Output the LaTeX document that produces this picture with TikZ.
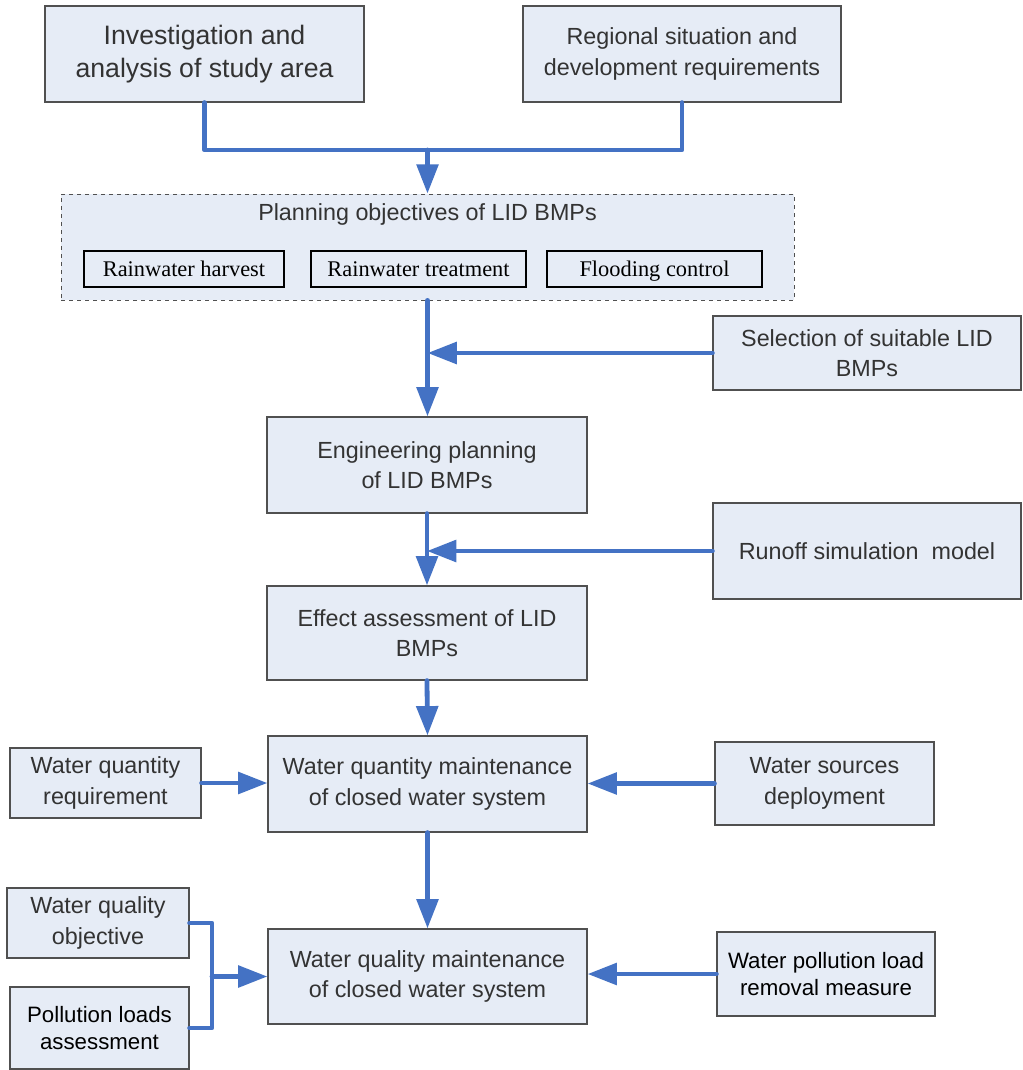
\documentclass[tikz,border=0pt]{standalone}
\usepackage{fontspec}
\setmainfont{Liberation Sans}
\newfontfamily\seriffam{Liberation Serif}
\usetikzlibrary{arrows.meta,calc}
\definecolor{boxfill}{RGB}{230,236,246}
\definecolor{boxline}{RGB}{80,80,80}
\definecolor{txt}{RGB}{51,51,51}
\definecolor{arrowblue}{RGB}{68,114,196}
\begin{document}
\begin{tikzpicture}[x=0.75pt,y=-0.75pt,
  box/.style={draw=boxline,line width=0.9pt,fill=boxfill,text=txt,align=center,inner sep=0pt,
    font=\fontsize{17.5}{23}\selectfont},
  blackbox/.style={box,text=black,font=\fontsize{16.7}{20}\selectfont},
  subbox/.style={draw=black,line width=1.1pt,fill=boxfill,text=black,inner sep=0pt,
    text height=11.5pt,text depth=0pt,
    minimum height=27pt,font=\seriffam\fontsize{16.8}{20}\selectfont},
  flow/.style={draw=arrowblue,line width=3.6pt,line cap=round,line join=round},
  flowarrow/.style={flow,-{Triangle[length=22pt,width=16pt]}}
]
\useasboundingbox (0,0) rectangle (1022,1070);
\fill[white] (0,0) rectangle (1022,1070);

% top boxes
\node[box,minimum width=239.25pt,minimum height=72pt,font=\fontsize{20}{24.75}\selectfont] (inv) at (204.5,54) {Investigation and\\analysis of study area};
\node[box,minimum width=238.5pt,minimum height=72pt] (reg) at (682,54) {Regional situation and\\development requirements};

% planning objectives container
\node[draw=boxline,dashed,line width=0.6pt,fill=boxfill,minimum width=549.75pt,minimum height=79.5pt,inner sep=0pt] (plan) at (427.5,247) {};
\node[text=txt,font=\fontsize{17.5}{23}\selectfont,inner sep=0pt] (plantitle) at (427.5,214) {Planning objectives of LID BMPs};
\node[subbox,minimum width=150pt] (rh) at (184,269) {Rainwater harvest};
\node[subbox,minimum width=161.25pt] (rt) at (418.5,269) {Rainwater treatment};
\node[subbox,minimum width=161.25pt] (fc) at (654.5,269) {Flooding control};

% middle column
\node[box,minimum width=231pt,minimum height=55.5pt] (sel) at (867,353) {Selection of suitable LID\\BMPs};
\node[box,minimum width=240pt,minimum height=72pt] (eng) at (427,465) {Engineering planning\\of LID BMPs};
\node[box,minimum width=231pt,minimum height=72pt] (run) at (867,551) {Runoff simulation~ model};
\node[box,minimum width=240pt,minimum height=70.5pt] (eff) at (427,633) {Effect assessment of LID\\BMPs};
\node[box,minimum width=239.25pt,minimum height=72pt] (wqm) at (427.5,784) {Water quantity maintenance\\of closed water system};
\node[box,minimum width=143.25pt,minimum height=52.5pt] (wqr) at (105.5,783) {Water quantity\\requirement};
\node[box,minimum width=164.25pt,minimum height=62.25pt] (wsd) at (824.5,783.5) {Water sources\\deployment};
\node[box,minimum width=239.25pt,minimum height=71.25pt] (wql) at (427.5,976.5) {Water quality maintenance\\of closed water system};
\node[box,minimum width=136.5pt,minimum height=52.5pt] (wqo) at (98,923) {Water quality\\objective};
\node[blackbox,minimum width=134.25pt,minimum height=61.5pt] (pla) at (99.5,1028) {Pollution loads\\assessment};
\node[blackbox,minimum width=163.5pt,minimum height=63pt] (wpl) at (826,974) {Water pollution load\\removal measure};

% connectors
\coordinate (j1) at (427.5,150);
\draw[flow] (inv.south) |- (j1) -| (reg.south);
\draw[flowarrow] (j1) -- (plan.north);
\draw[flowarrow] (plan.south) -- (plan.south |- eng.north);
\draw[flowarrow] (sel.west) -- (sel.west -| plan.south);
\draw[flowarrow] (eng.south) -- (eff.north);
\draw[flowarrow] (run.west) -- (run.west -| eng.south);
\draw[flowarrow] (eff.south) -- (wqm.north);
\draw[flowarrow] (wqr.east) -- (wqr.east -| wqm.west);
\draw[flowarrow] (wsd.west) -- (wsd.west -| wqm.east);
\draw[flowarrow] (wqm.south) -- (wql.north);
\coordinate (b1) at (212,976.5);
\draw[flow] (wqo.east) -| (b1) |- (pla.east);
\draw[flowarrow] (b1) -- (wql.west);
\draw[flowarrow] (wpl.west) -- (wpl.west -| wql.east);
\end{tikzpicture}
\end{document}
